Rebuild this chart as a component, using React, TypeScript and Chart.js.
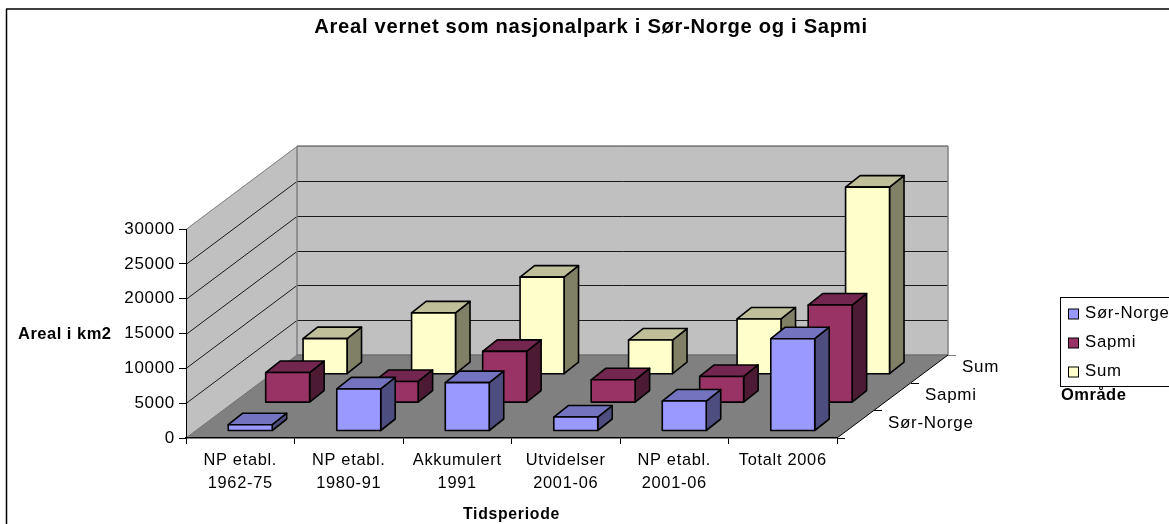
import React, { useEffect, useRef } from "react";
import { Chart, registerables } from "chart.js";

Chart.register(...registerables);

const categories: string[][] = [
  ["NP etabl.", "1962-75"],
  ["NP etabl.", "1980-91"],
  ["Akkumulert", "1991"],
  ["Utvidelser", "2001-06"],
  ["NP etabl.", "2001-06"],
  ["Totalt 2006"],
];
const seriesNames = ["Sør-Norge", "Sapmi", "Sum"];
const sorNorge = [900, 6050, 6950, 2000, 4300, 13250];
const sapmi = [4320, 3030, 7350, 3270, 3750, 14000];
const sum = [5100, 8800, 13930, 4900, 7930, 26850];
const yTicks = [0, 5000, 10000, 15000, 20000, 25000, 30000];

const FONT = '"Liberation Sans", Arial, sans-serif';
const faces = [
  { front: "#9999FF", top: "#7373BF", side: "#4D4D80" },
  { front: "#993366", top: "#732650", side: "#4D1A33" },
  { front: "#FFFFCC", top: "#BFBF99", side: "#808066" },
];
const DEPTH = { x: 111, y: -83 };
const ROW = { x0: 10, y0: -7, dx: 37.4, dy: -28.4 };
const BAR_DEPTH = { x: 14.5, y: -11.5 };

function poly(ctx: CanvasRenderingContext2D, pts: number[][], fill?: string, stroke?: string, lw = 1) {
  ctx.beginPath();
  pts.forEach((p, i) => (i ? ctx.lineTo(p[0], p[1]) : ctx.moveTo(p[0], p[1])));
  ctx.closePath();
  if (fill) {
    ctx.fillStyle = fill;
    ctx.fill();
  }
  if (stroke) {
    ctx.strokeStyle = stroke;
    ctx.lineWidth = lw;
    ctx.lineJoin = "round";
    ctx.stroke();
  }
}
function line(ctx: CanvasRenderingContext2D, x1: number, y1: number, x2: number, y2: number, c: string, lw = 1) {
  ctx.beginPath();
  ctx.moveTo(x1, y1);
  ctx.lineTo(x2, y2);
  ctx.strokeStyle = c;
  ctx.lineWidth = lw;
  ctx.stroke();
}
function text(ctx: CanvasRenderingContext2D, s: string, x: number, y: number, font: string, spacing = "0.7px") {
  ctx.save();
  ctx.font = font;
  (ctx as any).letterSpacing = spacing;
  ctx.fillStyle = "#000";
  ctx.textAlign = "left";
  ctx.textBaseline = "middle";
  ctx.fillText(s, x, y);
  ctx.restore();
}

const plugin3d = {
  id: "plugin3d",
  afterLayout(chart: any) {
    // Chart title is centred on the framed figure, not on the plot column.
    chart.titleBlock.left = 13;
    chart.titleBlock.right = 1169;
  },
  beforeDraw(chart: any) {
    const { ctx, chartArea: a, scales } = chart;
    (ctx as any).letterSpacing = "0.7px";
    const y0 = a.bottom;
    const { x: dx, y: dy } = DEPTH;
    ctx.save();
    ctx.fillStyle = "#fff";
    ctx.fillRect(0, 0, chart.width, chart.height);
    line(ctx, 6.5, 9, 6.5, chart.height, "#000", 1.5);
    line(ctx, 6, 9, chart.width, 9, "#000", 1.5);
    poly(ctx, [[a.left, y0], [a.left + dx, y0 + dy], [a.left + dx, a.top + dy], [a.left, a.top]], "#C0C0C0");
    poly(ctx, [[a.left + dx, a.top + dy], [a.right + dx, a.top + dy], [a.right + dx, y0 + dy], [a.left + dx, y0 + dy]], "#C0C0C0");
    poly(ctx, [[a.left, y0], [a.left + dx, y0 + dy], [a.right + dx, y0 + dy], [a.right, y0]], "#808080");
    for (const v of yTicks) {
      if (v === 0) continue;
      const y = Math.round(scales.y.getPixelForValue(v)) + 0.5;
      const c = v === 30000 ? "#808080" : "#1a1a1a";
      line(ctx, a.left, y, a.left + dx, y + dy, c);
      line(ctx, a.left + dx, y + dy, a.right + dx, y + dy, c);
    }
    line(ctx, a.left + dx, a.top + dy, a.left + dx, y0 + dy, "#808080", 1.5);
    line(ctx, a.left + dx, a.top + dy, a.right + dx, a.top + dy, "#808080", 1.5);
    line(ctx, a.right + dx, a.top + dy, a.right + dx, y0 + dy, "#808080", 1.5);
    line(ctx, a.left + dx, y0 + dy, a.right + dx, y0 + dy, "#707070", 1.5);
    line(ctx, a.left + dx, y0 + dy, a.left, y0, "#707070", 1);
    // depth axis
    line(ctx, a.right, y0, a.right + dx, y0 + dy, "#000", 1);
    for (let i = 0; i < 4; i++) {
      const x = a.right + (dx * i) / 3;
      const y = y0 + (dy * i) / 3;
      line(ctx, x, Math.round(y) + 0.5, x + 8, Math.round(y) + 0.5, i === 3 ? "#808080" : "#000");
    }
    ctx.restore();
  },
  beforeDatasetDraw(chart: any, args: any) {
    const { ctx } = chart;
    const row = args.index;
    const f = faces[row];
    const meta = args.meta;
    const ox = ROW.x0 + row * ROW.dx;
    const oy = ROW.y0 + row * ROW.dy;
    ctx.save();
    for (const el of meta.data) {
      const l = el.x - el.width / 2 + ox;
      const r = el.x + el.width / 2 + ox;
      const t = el.y + oy;
      const b = el.base + oy;
      const bx = BAR_DEPTH.x;
      const by = BAR_DEPTH.y;
      poly(ctx, [[r, t], [r + bx, t + by], [r + bx, b + by], [r, b]], f.side, "#000", 1.6);
      poly(ctx, [[l, t], [l + bx, t + by], [r + bx, t + by], [r, t]], f.top, "#000", 1.6);
      poly(ctx, [[l, t], [r, t], [r, b], [l, b]], f.front, "#000", 1.6);
    }
    ctx.restore();
    return false;
  },
  afterDraw(chart: any) {
    const { ctx } = chart;
    const reg = `17px ${FONT}`;
    const bold = `bold 16.5px ${FONT}`;
    text(ctx, "Areal i km2", 18, 334, bold, "0.5px");
    text(ctx, "Sør-Norge", 888, 423.5, reg);
    text(ctx, "Sapmi", 925, 395.5, reg);
    text(ctx, "Sum", 962, 367.5, reg);
    ctx.save();
    ctx.strokeStyle = "#000";
    ctx.lineWidth = 1;
    ctx.strokeRect(1060.5, 297.5, 120, 89);
    ctx.restore();
    seriesNames.forEach((name, i) => {
      const y = 314 + i * 29;
      ctx.save();
      ctx.fillStyle = faces[i].front;
      ctx.strokeStyle = "#000";
      ctx.lineWidth = 1;
      ctx.fillRect(1068.5, y - 5, 10, 10);
      ctx.strokeRect(1068.5, y - 5, 10, 10);
      ctx.restore();
      text(ctx, name, 1085, y - 1, `16.8px ${FONT}`);
    });
    text(ctx, "Område", 1061, 395.5, bold, "0.5px");
  },
};

export default function App() {
  const ref = useRef<HTMLCanvasElement>(null);
  useEffect(() => {
    if (!ref.current) return;
    const chart = new Chart(ref.current, {
      type: "bar",
      data: {
        labels: categories as any,
        datasets: [
          { label: seriesNames[0], data: sorNorge, backgroundColor: faces[0].front },
          { label: seriesNames[1], data: sapmi, backgroundColor: faces[1].front },
          { label: seriesNames[2], data: sum, backgroundColor: faces[2].front },
        ],
      },
      options: {
        animation: false,
        responsive: false,
        layout: { padding: { left: 0, top: 0, right: 332, bottom: 0 } },
        datasets: { bar: { grouped: false, barPercentage: 0.405, categoryPercentage: 1 } },
        plugins: {
          legend: { display: false },
          tooltip: { enabled: false },
          title: {
            display: true,
            text: "Areal vernet som nasjonalpark i Sør-Norge og i Sapmi",
            color: "#000",
            font: { family: FONT, size: 20.2, weight: "bold", lineHeight: 1 },
            padding: { top: 17, bottom: 191.8 },
          },
        },
        scales: {
          x: {
            afterFit: (s: any) => { s.height = 86; },
            grid: { display: true, drawOnChartArea: false, color: "#000", tickLength: 6, offset: true },
            border: { display: true, color: "#000", width: 1.5 },
            ticks: {
              color: "#000",
              font: { family: FONT, size: 16.4, lineHeight: 1.42 },
              maxRotation: 0,
              autoSkip: false,
              padding: 5,
            },
            title: {
              display: true,
              text: "Tidsperiode",
              color: "#000",
              font: { family: FONT, size: 15.8, weight: "bold" },
              padding: { top: 0, bottom: 0 },
            },
          },
          y: {
            min: 0,
            max: 30000,
            afterFit: (s: any) => { s.width = 186; },
            afterBuildTicks: (s: any) => { s.ticks = yTicks.map((value) => ({ value })); },
            grid: { display: true, drawOnChartArea: false, color: "#000", tickLength: 7 },
            border: { display: true, color: "#000", width: 1 },
            ticks: {
              color: "#000",
              font: { family: FONT, size: 17 },
              padding: 4,
              callback: (v: any) => String(v),
            },
          },
        },
      } as any,
      plugins: [plugin3d],
    });
    return () => chart.destroy();
  }, []);
  return (
    <canvas
      ref={ref}
      width={1169}
      height={524}
      style={{ position: "absolute", left: 0, top: 0, display: "block" }}
    />
  );
}
